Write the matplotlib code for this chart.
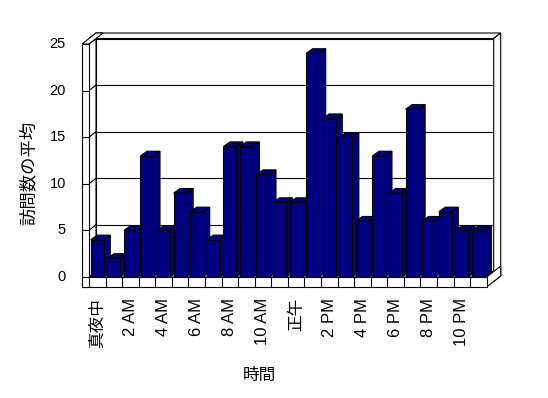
import numpy as np
import matplotlib
matplotlib.use("Agg")
import matplotlib.pyplot as plt

plt.rcParams['font.family'] = ['Liberation Sans', 'Noto Sans CJK JP', 'DejaVu Sans']

# average visits per hour
hours = np.arange(24)
visits = [4, 2, 5, 13, 5, 9, 7, 4, 14, 14, 11, 8,
          8, 24, 17, 15, 6, 13, 9, 18, 6, 7, 5, 5]
tick_pos = [0, 2, 4, 6, 8, 10, 12, 14, 16, 18, 20, 22]
tick_labels = ["真夜中", "2 AM", "4 AM", "6 AM", "8 AM", "10 AM",
               "正午", "2 PM", "4 PM", "6 PM", "8 PM", "10 PM"]
y_ticks = [0, 5, 10, 15, 20, 25]
ymax = 25

W, H = 548, 398
# pixel geometry of the front plane
px_cat = 397.7 / 24
px_val = 233.0 / 25
x0, y0 = 89.0, 277.0


def dx(p):
    return p / px_cat


def dy(p):
    return p / px_val


fig = plt.figure(figsize=(W / 100, H / 100), dpi=100)
ax = fig.add_axes([0, 0, 1, 1])
ax.set_xlim(-x0 / px_cat, (W - x0) / px_cat)
ax.set_ylim((y0 - H) / px_val, y0 / px_val)
ax.axis("off")

n = len(hours)
Dx, Dy = dx(7), dy(5.5)      # depth of the plot box
t = dx(7)                     # left wall thickness
fl = dy(10)                   # floor thickness
lw = 0.8
navy = "#000080"


def quad(pts, fc="white", z=1):
    xs = [p[0] for p in pts]
    ys = [p[1] for p in pts]
    ax.fill(xs, ys, facecolor=fc, edgecolor="black", lw=lw, zorder=z,
            joinstyle="miter")


# back wall
quad([(Dx, Dy), (n + Dx, Dy), (n + Dx, ymax + Dy), (Dx, ymax + Dy)], z=1)
for v in y_ticks[1:-1]:
    ax.plot([Dx, n + Dx], [v + Dy, v + Dy], color="black", lw=lw, zorder=2)
# back wall top + right side
quad([(-t + Dx, ymax + Dy), (n + Dx, ymax + Dy), (n + 2 * Dx, ymax + 2 * Dy),
      (-t + 2 * Dx, ymax + 2 * Dy)], z=2)
quad([(n + Dx, -fl + Dy), (n + Dx, ymax + Dy), (n + 2 * Dx, ymax + 2 * Dy),
      (n + 2 * Dx, -fl + 2 * Dy)], z=2)
# left wall inner face, top, front
quad([(0, 0), (0, ymax), (Dx, ymax + Dy), (Dx, Dy)], z=3)
for v in y_ticks:
    ax.plot([0, Dx], [v, v + Dy], color="black", lw=lw, zorder=3)
quad([(-t, ymax), (0, ymax), (2 * Dx, ymax + 2 * Dy), (-t + 2 * Dx, ymax + 2 * Dy)], z=3)
# floor top + right side
quad([(0, 0), (n, 0), (n + Dx, Dy), (Dx, Dy)], z=3)
quad([(n, -fl), (n, 0), (n + 2 * Dx, 2 * Dy), (n + 2 * Dx, -fl + 2 * Dy)], z=4)
# floor front with category ticks
quad([(-t, -fl), (n, -fl), (n, 0), (-t, 0)], z=50)
for k in range(1, n):
    ax.plot([k, k], [-fl, 0], color="black", lw=lw, zorder=51)
quad([(-t, -fl), (0, -fl), (0, ymax), (-t, ymax)], z=50)
for v in y_ticks:
    ax.plot([-t, 0], [v, v], color="black", lw=lw, zorder=51)

# bars
bw = dx(13)
bdx, bdy = dx(6.5), dy(4.6)
bars = ax.bar(hours + 0.5, visits, width=bw, color=navy, edgecolor="black",
              lw=lw, zorder=10)
for k, (rect, v) in enumerate(zip(bars, visits)):
    l = k + 0.5 - bw / 2
    r = l + bw
    quad([(r, 0), (r, v), (r + bdx, v + bdy), (r + bdx, bdy)], fc=navy, z=10 + k)
    quad([(l, v), (r, v), (r + bdx, v + bdy), (l + bdx, v + bdy)], fc=navy, z=10 + k)
    rect.set_zorder(10.5 + k)

# tick labels
for v in y_ticks:
    ax.text(dx(66 - x0), v, str(v), ha="right", va="center", fontsize=10.5)
for p, s in zip(tick_pos, tick_labels):
    ax.text(p + 0.5, dy(y0 - 298), s, rotation=90, ha="center", va="top",
            fontsize=12)

ax.text(dx(28 - x0), dy(y0 - 173), "訪問数の平均", rotation=90, ha="center",
        va="center", fontsize=12.5)
ax.text(dx(259 - x0), dy(y0 - 375), "時間", ha="center", va="center", fontsize=12)

fig.savefig("out.png", dpi=100)
